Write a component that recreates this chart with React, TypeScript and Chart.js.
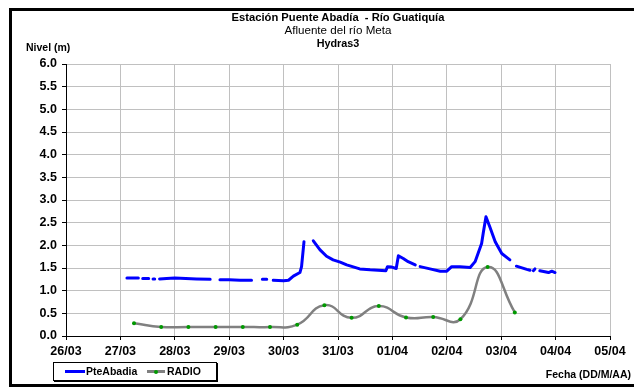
import React, { useEffect, useRef } from "react";
import { Chart, registerables } from "chart.js";

Chart.register(...registerables);

const FONT = '"Liberation Sans", Arial, sans-serif';

// X axis: day index (0 = 26/03 00:00)
const xTickLabels = ["26/03", "27/03", "28/03", "29/03", "30/03", "31/03", "01/04", "02/04", "03/04", "04/04", "05/04"];
const yTickValues = [0, 0.5, 1, 1.5, 2, 2.5, 3, 3.5, 4, 4.5, 5, 5.5, 6];

// PteAbadia (null = gap in record)
const pteDays = [
  1.12, 1.33, 1.37,
  1.41, 1.52, 1.56,
  1.60, 1.63, 1.66,
  1.72, 1.85, 2.0, 2.2, 2.4, 2.65, 2.74,
  2.83, 3.0, 3.2, 3.41, 3.5,
  3.61, 3.69, 3.75,
  3.81, 4.0, 4.09, 4.18, 4.30, 4.33, 4.375, 4.45,
  4.546, 4.67, 4.79, 4.91, 5.04, 5.16, 5.40, 5.59, 5.88, 5.91, 5.99, 6.07, 6.11, 6.20, 6.29, 6.42, 6.46,
  6.51, 6.69, 6.88, 7.0, 7.09, 7.24, 7.43, 7.52, 7.64, 7.67, 7.72, 7.79, 7.89, 8.01, 8.16, 8.22,
  8.28, 8.47, 8.53, 8.56,
  8.59, 8.62, 8.66,
  8.71, 8.87, 8.93, 8.99,
];
const pteLevels = [
  1.28, 1.28, null,
  1.27, 1.27, null,
  1.26, 1.26, null,
  1.26, 1.27, 1.28, 1.27, 1.26, 1.25, null,
  1.24, 1.24, 1.23, 1.23, null,
  1.25, 1.25, null,
  1.23, 1.22, 1.23, 1.32, 1.40, 1.53, 2.08, null,
  2.10, 1.90, 1.76, 1.68, 1.63, 1.57, 1.48, 1.46, 1.44, 1.53, 1.52, 1.49, 1.77, 1.71, 1.64, 1.57, null,
  1.53, 1.48, 1.43, 1.43, 1.53, 1.53, 1.51, 1.64, 2.04, 2.27, 2.63, 2.41, 2.08, 1.82, 1.68, null,
  1.54, 1.47, 1.45, null,
  1.44, 1.48, null,
  1.44, 1.40, 1.43, 1.40,
];

// RADIO
const radioDays = [1.25, 1.75, 2.25, 2.75, 3.25, 3.75, 4.25, 4.75, 5.25, 5.75, 6.25, 6.75, 7.25, 7.75, 8.25];
const radioLevels = [0.28, 0.2, 0.2, 0.2, 0.2, 0.2, 0.25, 0.68, 0.4, 0.66, 0.41, 0.42, 0.37, 1.52, 0.52];

const seriesNames = ["PteAbadia", "RADIO"];

export default function App() {
  const canvasRef = useRef<HTMLCanvasElement | null>(null);

  useEffect(() => {
    const canvas = canvasRef.current;
    if (!canvas) return;
    const chart = new Chart(canvas, {
      type: "line",
      data: {
        datasets: [
          {
            label: seriesNames[0],
            data: pteDays.map((d, i) => ({ x: d, y: pteLevels[i] })) as any,
            borderColor: "#0000ff",
            backgroundColor: "#0000ff",
            borderWidth: 3,
            pointRadius: 0,
            tension: 0,
            spanGaps: false,
            borderCapStyle: "round",
            borderJoinStyle: "round",
          },
          {
            label: seriesNames[1],
            data: radioDays.map((d, i) => ({ x: d, y: radioLevels[i] })),
            borderColor: "#808080",
            backgroundColor: "#009900",
            borderWidth: 2.5,
            pointRadius: 2,
            pointBorderWidth: 0,
            pointBackgroundColor: "#009900",
            tension: 0.5,
            cubicInterpolationMode: "default",
          },
        ],
      },
      options: {
        responsive: false,
        maintainAspectRatio: false,
        animation: false,
        layout: { padding: { left: 0, top: 53, right: 25, bottom: 18 } },
        plugins: {
          legend: { display: false },
          title: { display: false },
          tooltip: { enabled: false },
        },
        scales: {
          x: {
            type: "linear",
            min: 0,
            max: xTickLabels.length - 1,
            afterBuildTicks: (s: any) => {
              s.ticks = xTickLabels.map((_, i) => ({ value: i }));
            },
            afterFit: (s: any) => {
              s.height = 30;
            },
            ticks: {
              callback: (v: any) => xTickLabels[Math.round(Number(v))] ?? "",
              font: { family: FONT, size: 12.5, weight: "bold" },
              color: "#000",
              padding: 4,
              maxRotation: 0,
              autoSkip: false,
            },
            grid: { color: "#c0c0c0", tickColor: "#000", tickLength: 4, lineWidth: 1 },
            border: { color: "#000", width: 1 },
          },
          y: {
            min: 0,
            max: 6,
            afterBuildTicks: (s: any) => {
              s.ticks = yTickValues.map((v) => ({ value: v }));
            },
            afterFit: (s: any) => {
              s.width = 54;
            },
            ticks: {
              callback: (v: any) => Number(v).toFixed(1),
              font: { family: FONT, size: 12.5, weight: "bold" },
              color: "#000",
              padding: 5,
              autoSkip: false,
            },
            grid: { color: "#c0c0c0", tickColor: "#000", tickLength: 4, lineWidth: 1 },
            border: { color: "#000", width: 1 },
          },
        },
      },
    } as any);
    return () => chart.destroy();
  }, []);

  const abs = (style: React.CSSProperties): React.CSSProperties => ({ position: "absolute", ...style });

  return (
    <div
      style={{
        position: "relative",
        left: 1,
        top: 0,
        width: 629,
        height: 379,
        border: "3px solid #000",
        boxSizing: "border-box",
        background: "#fff",
        fontFamily: FONT,
        color: "#000",
      }}
    >
      <canvas ref={canvasRef} width={623} height={373} style={{ position: "absolute", left: 0, top: 0, display: "block" }} />
      <div style={abs({ left: 54, width: 544, top: -1, lineHeight: "14px", fontSize: 11.2, fontWeight: "bold", textAlign: "center", whiteSpace: "pre" })}>
        {"Estación Puente Abadía  - Río Guatiquía"}
      </div>
      <div style={abs({ left: 54, width: 544, top: 12, lineHeight: "14px", fontSize: 11.6, textAlign: "center" })}>
        Afluente del río Meta
      </div>
      <div style={abs({ left: 54, width: 544, top: 25, lineHeight: "14px", fontSize: 10.8, fontWeight: "bold", textAlign: "center" })}>
        Hydras3
      </div>
      <div style={abs({ left: 14, top: 29, lineHeight: "14px", fontSize: 10.5, fontWeight: "bold", whiteSpace: "nowrap" })}>
        Nivel (m)
      </div>
      <div
        style={abs({
          left: 41,
          top: 351,
          width: 164,
          height: 19,
          border: "1px solid #000",
          boxShadow: "1px 1px 0 #000",
          boxSizing: "border-box",
          background: "#fff",
        })}
      >
        <div style={abs({ left: 11, top: 7, width: 20, height: 3, background: "#0000ff" })} />
        <div style={abs({ left: 32, top: 1, lineHeight: "15px", fontSize: 10.5, fontWeight: "bold", whiteSpace: "nowrap" })}>
          {seriesNames[0]}
        </div>
        <div style={abs({ left: 93, top: 7, width: 18, height: 3, background: "#808080" })} />
        <div style={abs({ left: 100, top: 6.5, width: 4, height: 4, borderRadius: 2, background: "#009900" })} />
        <div style={abs({ left: 113, top: 1, lineHeight: "15px", fontSize: 10.5, fontWeight: "bold", whiteSpace: "nowrap" })}>
          {seriesNames[1]}
        </div>
      </div>
      <div style={abs({ right: 4, top: 356, lineHeight: "14px", fontSize: 10.5, fontWeight: "bold", whiteSpace: "nowrap" })}>
        Fecha (DD/M/AA)
      </div>
    </div>
  );
}
